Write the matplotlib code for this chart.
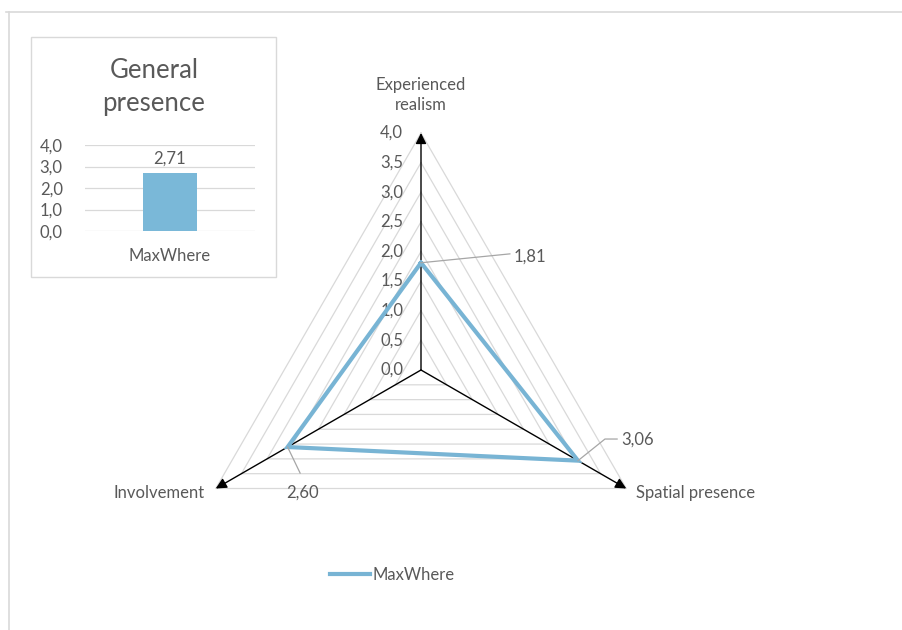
import matplotlib
matplotlib.use('Agg')
import matplotlib.pyplot as plt
from matplotlib import lines, patches
import numpy as np

plt.rcParams['font.family'] = ['Lato', 'DejaVu Sans']

categories = ['Experienced\nrealism', 'Spatial presence', 'Involvement']
values = [1.81, 3.06, 2.60]
value_labels = ['1,81', '3,06', '2,60']
series_name = 'MaxWhere'
rings = [0.5, 1.0, 1.5, 2.0, 2.5, 3.0, 3.5, 4.0]
ring_labels = ['0,0', '0,5', '1,0', '1,5', '2,0', '2,5', '3,0', '3,5', '4,0']

bar_categories = ['MaxWhere']
bar_values = [2.71]
bar_labels = ['2,71']
bar_ticks = ['0,0', '1,0', '2,0', '3,0', '4,0']

W, H = 903, 630
scale = 59.25   # px per unit
cx, cy = 421, 370
fs = 12

blue = '#78b4d4'
txt = '#595959'
grid = '#d9d9d9'

fig = plt.figure(figsize=(W/100, H/100), dpi=100)
ax = fig.add_axes([0, 0, 1, 1])
ax.set_xlim(-cx/scale, (W-cx)/scale)
ax.set_ylim(-(H-cy)/scale, cy/scale)
ax.set_aspect('equal')
ax.axis('off')

angles = np.deg2rad([90, -30, 210])
dirs = np.column_stack([np.cos(angles), np.sin(angles)])

# gridline triangles
for r in rings:
    pts = np.vstack([dirs*r, dirs[:1]*r])
    ax.plot(pts[:, 0], pts[:, 1], color=grid, lw=0.9, zorder=1)

# axes with arrow heads
for d in dirs:
    ax.annotate('', xy=(d[0]*4.0, d[1]*4.0), xytext=(0, 0),
                arrowprops=dict(arrowstyle='-|>', color='black', lw=1.0,
                                mutation_scale=16, shrinkA=0, shrinkB=0),
                zorder=3)

# tick labels along vertical axis
for i, lab in enumerate(ring_labels):
    ax.text(-0.3, i*0.5, lab, ha='right', va='center', fontsize=fs, color=txt)

# data series
pts = dirs*np.array(values)[:, None]
closed = np.vstack([pts, pts[:1]])
ax.plot(closed[:, 0], closed[:, 1], color=blue, lw=3, zorder=4, solid_joinstyle='miter')

# category labels
ax.text(0, 4.64, categories[0], ha='center', va='center', fontsize=fs,
        color=txt, linespacing=1.35)
ax.text(3.63, -2.08, categories[1], ha='left', va='center', fontsize=fs, color=txt)
ax.text(-3.65, -2.08, categories[2], ha='right', va='center', fontsize=fs, color=txt)

# data labels with leader lines
leader = '#a6a6a6'
ax.plot([pts[0, 0], 1.50], [pts[0, 1], 1.96], color=leader, lw=0.9, zorder=5)
ax.text(1.57, 1.92, value_labels[0], ha='left', va='center', fontsize=fs, color=txt)
ax.plot([pts[1, 0], 3.105, 3.31], [pts[1, 1], -1.165, -1.165], color=leader, lw=0.9, zorder=5)
ax.text(3.375, -1.18, value_labels[1], ha='left', va='center', fontsize=fs, color=txt)
ax.plot([pts[2, 0], -2.04], [pts[2, 1], -1.74], color=leader, lw=0.9, zorder=5)
ax.text(-2.0, -2.07, value_labels[2], ha='center', va='center', fontsize=fs, color=txt)

# legend
handle = lines.Line2D([], [], color=blue, lw=3)
ax.legend([handle], [series_name], loc='center', bbox_to_anchor=(392/W, 1-575/H),
          frameon=False, fontsize=fs, labelcolor=txt, handlelength=2.4,
          handletextpad=0.15)

# outer chart border (top and left)
fig.add_artist(lines.Line2D([6/W, 1], [1-12/H, 1-12/H], color=grid, lw=1.2,
                            transform=fig.transFigure))
fig.add_artist(lines.Line2D([9/W, 9/W], [0, 1-12/H], color=grid, lw=1.2,
                            transform=fig.transFigure))

# inset box
fig.add_artist(patches.Rectangle((31/W, 1-277/H), 245/W, 240/H, fill=False,
                                 edgecolor=grid, lw=1.0, transform=fig.transFigure))
fig.text(154/W, 1-87/H, 'General\npresence', ha='center', va='center',
         fontsize=18.5, color=txt, linespacing=1.45)

bx = fig.add_axes([85/W, 1-231/H, 170/W, 86/H])
bx.bar(range(len(bar_values)), bar_values, width=0.32, color='#7ab8d8', zorder=2)
bx.set_xlim(-0.5, 0.5)
bx.set_ylim(0, 4)
bx.set_yticks(range(5))
bx.set_yticklabels(bar_ticks, fontsize=fs, color=txt)
bx.set_xticks(range(len(bar_categories)))
bx.set_xticklabels(bar_categories, fontsize=fs, color=txt)
bx.tick_params(length=0, pad=16, axis='y')
bx.tick_params(length=0, pad=12, axis='x')
bx.grid(axis='y', color=grid, lw=0.9, zorder=0)
for s in bx.spines.values():
    s.set_visible(False)
bx.set_facecolor('none')
for i, v in enumerate(bar_values):
    bx.text(i, v + 0.3, bar_labels[i], ha='center', va='bottom', fontsize=fs, color=txt)

fig.savefig('out.png', dpi=100)
